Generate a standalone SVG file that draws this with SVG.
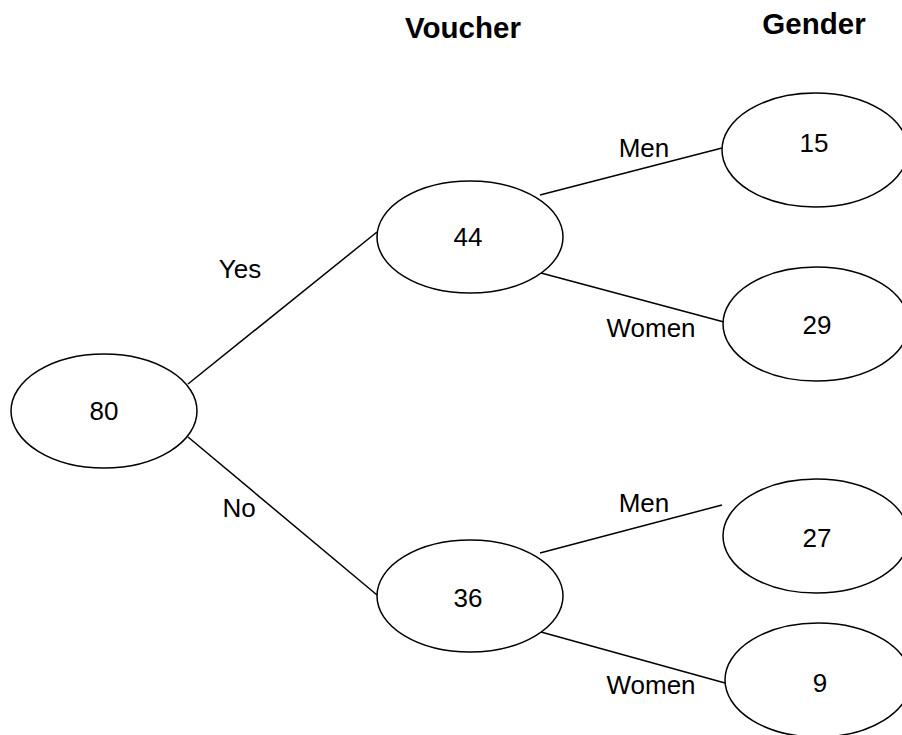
<svg xmlns="http://www.w3.org/2000/svg" width="902" height="735" viewBox="0 0 902 735">
<style>
.n{fill:#fff;stroke:#000;stroke-width:1.5}
.c line{stroke:#000;stroke-width:1.5}
text{font-family:"Liberation Sans",Arial,sans-serif;font-size:26px;fill:#000;text-anchor:middle}
.h{font-weight:bold;font-size:29.5px}
</style>
<rect width="902" height="735" fill="#fff"/>
<g id="headers">
<text class="h" x="463" y="38">Voucher</text>
<text class="h" x="814" y="34">Gender</text>
</g>
<g id="connectors" class="c">
<line x1="188" y1="384" x2="377" y2="232"/>
<line x1="188" y1="437" x2="377" y2="595"/>
<line x1="540" y1="195" x2="722" y2="148"/>
<line x1="541" y1="273" x2="724" y2="322"/>
<line x1="540" y1="553" x2="722" y2="505"/>
<line x1="541" y1="632" x2="725" y2="683"/>
</g>
<g id="edge-labels">
<text x="240" y="278">Yes</text>
<text x="239" y="517">No</text>
<text x="644" y="157">Men</text>
<text x="651" y="337">Women</text>
<text x="644" y="512">Men</text>
<text x="651" y="694">Women</text>
</g>
<g id="n80"><ellipse class="n" cx="104" cy="411" rx="93" ry="57"/><text x="104" y="420">80</text></g>
<g id="n44"><ellipse class="n" cx="470" cy="237" rx="93" ry="56"/><text x="468" y="246">44</text></g>
<g id="n36"><ellipse class="n" cx="470" cy="596" rx="93" ry="56"/><text x="468" y="607">36</text></g>
<g id="n15"><ellipse class="n" cx="815" cy="150" rx="93" ry="57"/><text x="814" y="152">15</text></g>
<g id="n29"><ellipse class="n" cx="816" cy="324" rx="93" ry="57"/><text x="817" y="334">29</text></g>
<g id="n27"><ellipse class="n" cx="816" cy="536" rx="93" ry="57"/><text x="817" y="547">27</text></g>
<g id="n9"><ellipse class="n" cx="818" cy="680" rx="93" ry="57"/><text x="820" y="692">9</text></g>
</svg>
